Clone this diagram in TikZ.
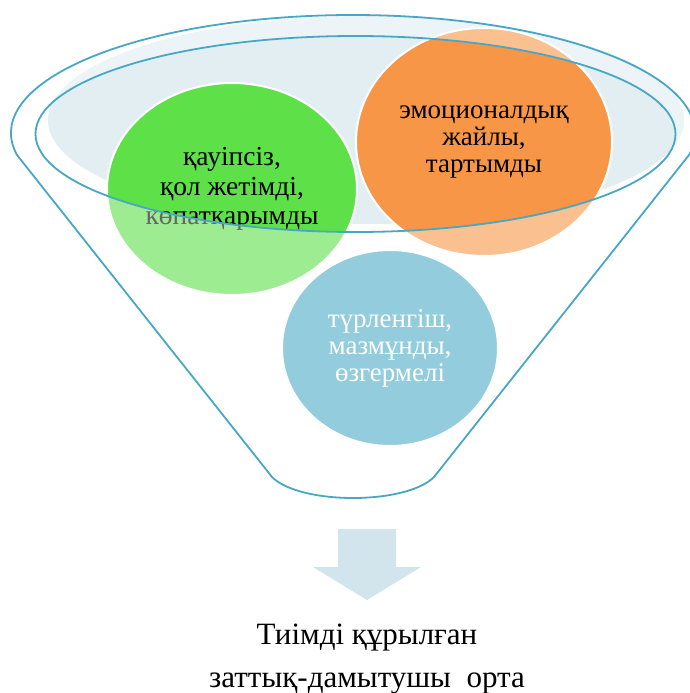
\documentclass[tikz,border=0pt]{standalone}
\usepackage{fontspec}
\setmainfont{Liberation Serif}
\usetikzlibrary{shapes.geometric}
\definecolor{rimc}{HTML}{48A8C4}
\definecolor{bandc}{HTML}{EDF4F7}
\definecolor{liquidc}{HTML}{E3EEF3}
\definecolor{greenc}{HTML}{5EE049}
\definecolor{orangec}{HTML}{F79646}
\definecolor{bluec}{HTML}{4BABC6}
\definecolor{arrowc}{HTML}{D2E4EC}
\tikzset{
  ball/.style={ellipse, draw=white, line width=2pt, inner sep=0pt, align=center,
    font=\fontsize{27}{27}\selectfont},
  rimline/.style={draw=rimc, line width=1.8pt},
  veil/.style={fill=white, fill opacity=0.4, even odd rule}
}
\begin{document}
\begin{tikzpicture}[x=1pt,y=-1pt]
\useasboundingbox (0,0) rectangle (690,693);
\fill[white] (0,0) rectangle (690,693);
\clip (0,0) rectangle (690,693);
% liquid surface
\fill[bandc] (366,120) ellipse [x radius=318, y radius=104];
\begin{scope}
  \clip (366,120) ellipse [x radius=318, y radius=104];
  \fill[liquidc] (355.5,134) ellipse [x radius=320, y radius=98];
\end{scope}
% circles
\node[ball, fill=greenc, minimum width=250pt, minimum height=212pt,
  font=\fontsize{27.5}{29.5}\selectfont] (safe) at (232,189)
  {қауіпсіз,\\қол жетімді,\\көпатқарымды};
\node[ball, fill=orangec, minimum width=256pt, minimum height=228pt] (emo) at (484,142)
  {эмоционалдық\\жайлы,\\тартымды};
\node[ball, fill=bluec, text=white, minimum width=216pt, minimum height=196pt] (var) at (390,348)
  {түрленгіш,\\мазмұнды,\\өзгермелі};
% parts outside the rim are paler
\begin{scope}
  \clip (232,188) ellipse [x radius=126, y radius=107];
  \fill[veil] (0,0) rectangle (690,693) (355.5,134) ellipse [x radius=320, y radius=98];
\end{scope}
\begin{scope}
  \clip (484,142) ellipse [x radius=129, y radius=115];
  \fill[veil] (0,0) rectangle (690,693) (355.5,134) ellipse [x radius=320, y radius=98];
\end{scope}
\begin{scope}
  \clip (390,348) ellipse [x radius=109, y radius=99];
  \fill[veil] (0,0) rectangle (690,693) (355.5,134) ellipse [x radius=320, y radius=98];
\end{scope}
% funnel outline
\draw[rimline] (355.5,134) ellipse [x radius=320, y radius=98];
\draw[rimline, line join=round] (353,133) ++(169.26:342 and 118)
  arc[start angle=169.26, end angle=370.74, x radius=342, y radius=118]
  -- (434,477) .. controls (406,505) and (300,505) .. (272,477) -- cycle;
% arrow
\fill[arrowc] (338,529) -- (396,529) -- (396,567) -- (421,567) -- (367,600)
  -- (313,567) -- (338,567) -- cycle;
% result
\node[align=center, font=\fontsize{31}{43}\selectfont, inner sep=0pt] (res) at (367,659)
  {Тиімді құрылған\\заттық-дамытушы\hspace{0.5em}орта};
\end{tikzpicture}
\end{document}
